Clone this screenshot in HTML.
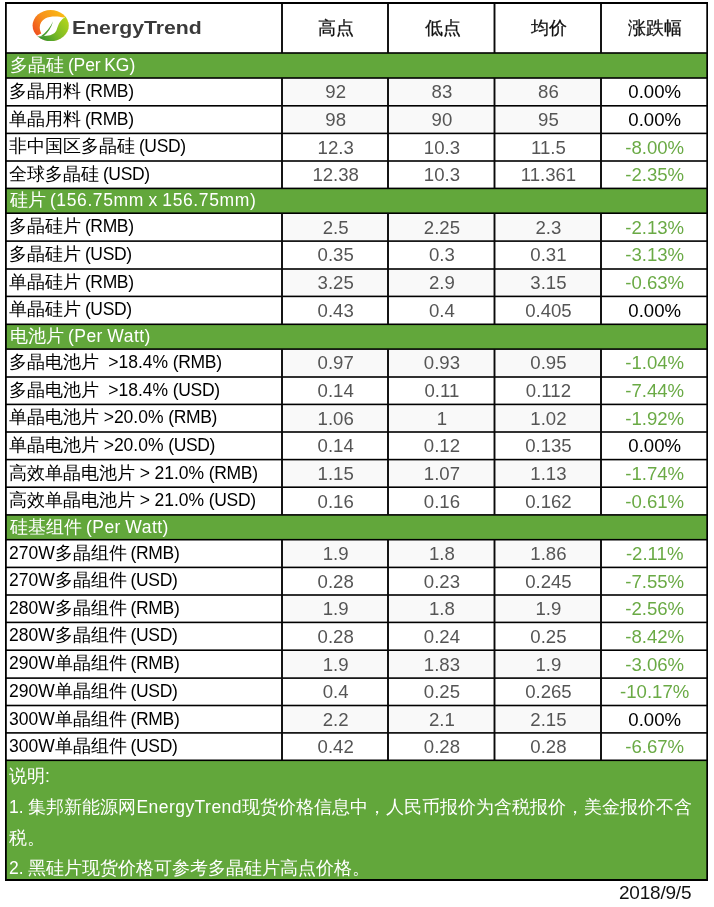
<!DOCTYPE html>
<html><head><meta charset="utf-8"><title>EnergyTrend</title>
<style>
html,body{margin:0;padding:0;background:#fff;}
body{will-change:transform;width:714px;height:907px;position:relative;overflow:hidden;font-family:"Liberation Sans",sans-serif;font-size:17.5px;color:#000;}
.a{position:absolute;white-space:pre;}
.g{background:#62a73b;}
.sh{color:#fff;left:10px;word-spacing:-1px;}
.lb{left:9px;color:#000;word-spacing:-1px;}
.n{text-align:center;color:#555;font-size:18.6px;}
.z{text-align:center;color:#000;font-size:18.6px;}
.d{text-align:center;color:#6aaa45;font-size:18.6px;}
.gy{background:#f9f9f9;}
.u{letter-spacing:-0.35px;}
.hd{text-align:center;color:#111;font-size:18px;-webkit-text-stroke:0.25px #111;}
.nt{color:#fff;left:9px;}
</style></head><body>
<div class="a hd" style="left:283.3px;top:2.6px;width:106px;height:50px;line-height:50px;">高点</div>
<div class="a hd" style="left:389.3px;top:2.6px;width:106.5px;height:50px;line-height:50px;">低点</div>
<div class="a hd" style="left:495.8px;top:2.6px;width:106.5px;height:50px;line-height:50px;">均价</div>
<div class="a hd" style="left:602.3px;top:2.6px;width:106px;height:50px;line-height:50px;">涨跌幅</div>
<div class="a g" style="left:6px;top:53px;width:701px;height:25px;line-height:25px;"></div>
<div class="a sh" style="top:53px;height:25px;line-height:25px;">多晶硅 <span style="letter-spacing:-0.1px">(Per KG)</span></div>
<div class="a gy" style="left:282px;top:78px;width:319px;height:27.8px;line-height:27.8px;"></div>
<div class="a lb" style="top:78px;height:27.8px;line-height:27.8px;">多晶用料 <span class="u">(RMB)</span></div>
<div class="a n" style="left:282.7px;top:78.3px;width:106px;height:27.8px;line-height:27.8px;">92</div>
<div class="a n" style="left:388.7px;top:78.3px;width:106.5px;height:27.8px;line-height:27.8px;">83</div>
<div class="a n" style="left:495.2px;top:78.3px;width:106.5px;height:27.8px;line-height:27.8px;">86</div>
<div class="a z" style="left:601.7px;top:78.3px;width:106px;height:27.8px;line-height:27.8px;">0.00%</div>
<div class="a gy" style="left:282px;top:105.8px;width:319px;height:27.6px;line-height:27.6px;"></div>
<div class="a lb" style="top:105.8px;height:27.6px;line-height:27.6px;">单晶用料 <span class="u">(RMB)</span></div>
<div class="a n" style="left:282.7px;top:106.1px;width:106px;height:27.6px;line-height:27.6px;">98</div>
<div class="a n" style="left:388.7px;top:106.1px;width:106.5px;height:27.6px;line-height:27.6px;">90</div>
<div class="a n" style="left:495.2px;top:106.1px;width:106.5px;height:27.6px;line-height:27.6px;">95</div>
<div class="a z" style="left:601.7px;top:106.1px;width:106px;height:27.6px;line-height:27.6px;">0.00%</div>
<div class="a lb" style="top:133.4px;height:27.6px;line-height:27.6px;">非中国区多晶硅 <span class="u">(USD)</span></div>
<div class="a n" style="left:282.7px;top:133.7px;width:106px;height:27.6px;line-height:27.6px;">12.3</div>
<div class="a n" style="left:388.7px;top:133.7px;width:106.5px;height:27.6px;line-height:27.6px;">10.3</div>
<div class="a n" style="left:495.2px;top:133.7px;width:106.5px;height:27.6px;line-height:27.6px;">11.5</div>
<div class="a d" style="left:601.7px;top:133.7px;width:106px;height:27.6px;line-height:27.6px;">-8.00%</div>
<div class="a lb" style="top:161px;height:27.4px;line-height:27.4px;">全球多晶硅 <span class="u">(USD)</span></div>
<div class="a n" style="left:282.7px;top:161.3px;width:106px;height:27.4px;line-height:27.4px;">12.38</div>
<div class="a n" style="left:388.7px;top:161.3px;width:106.5px;height:27.4px;line-height:27.4px;">10.3</div>
<div class="a n" style="left:495.2px;top:161.3px;width:106.5px;height:27.4px;line-height:27.4px;">11.361</div>
<div class="a d" style="left:601.7px;top:161.3px;width:106px;height:27.4px;line-height:27.4px;">-2.35%</div>
<div class="a g" style="left:6px;top:188.4px;width:701px;height:24.8px;line-height:24.8px;"></div>
<div class="a sh" style="top:188.4px;height:24.8px;line-height:24.8px;">硅片 <span style="letter-spacing:0.62px">(156.75mm x 156.75mm)</span></div>
<div class="a gy" style="left:282px;top:213.2px;width:319px;height:27.9px;line-height:27.9px;"></div>
<div class="a lb" style="top:213.2px;height:27.9px;line-height:27.9px;">多晶硅片 <span class="u">(RMB)</span></div>
<div class="a n" style="left:282.7px;top:213.5px;width:106px;height:27.9px;line-height:27.9px;">2.5</div>
<div class="a n" style="left:388.7px;top:213.5px;width:106.5px;height:27.9px;line-height:27.9px;">2.25</div>
<div class="a n" style="left:495.2px;top:213.5px;width:106.5px;height:27.9px;line-height:27.9px;">2.3</div>
<div class="a d" style="left:601.7px;top:213.5px;width:106px;height:27.9px;line-height:27.9px;">-2.13%</div>
<div class="a lb" style="top:241.1px;height:27.9px;line-height:27.9px;">多晶硅片 <span class="u">(USD)</span></div>
<div class="a n" style="left:282.7px;top:241.4px;width:106px;height:27.9px;line-height:27.9px;">0.35</div>
<div class="a n" style="left:388.7px;top:241.4px;width:106.5px;height:27.9px;line-height:27.9px;">0.3</div>
<div class="a n" style="left:495.2px;top:241.4px;width:106.5px;height:27.9px;line-height:27.9px;">0.31</div>
<div class="a d" style="left:601.7px;top:241.4px;width:106px;height:27.9px;line-height:27.9px;">-3.13%</div>
<div class="a gy" style="left:282px;top:269px;width:319px;height:27.4px;line-height:27.4px;"></div>
<div class="a lb" style="top:269px;height:27.4px;line-height:27.4px;">单晶硅片 <span class="u">(RMB)</span></div>
<div class="a n" style="left:282.7px;top:269.3px;width:106px;height:27.4px;line-height:27.4px;">3.25</div>
<div class="a n" style="left:388.7px;top:269.3px;width:106.5px;height:27.4px;line-height:27.4px;">2.9</div>
<div class="a n" style="left:495.2px;top:269.3px;width:106.5px;height:27.4px;line-height:27.4px;">3.15</div>
<div class="a d" style="left:601.7px;top:269.3px;width:106px;height:27.4px;line-height:27.4px;">-0.63%</div>
<div class="a lb" style="top:296.4px;height:27.9px;line-height:27.9px;">单晶硅片 <span class="u">(USD)</span></div>
<div class="a n" style="left:282.7px;top:296.7px;width:106px;height:27.9px;line-height:27.9px;">0.43</div>
<div class="a n" style="left:388.7px;top:296.7px;width:106.5px;height:27.9px;line-height:27.9px;">0.4</div>
<div class="a n" style="left:495.2px;top:296.7px;width:106.5px;height:27.9px;line-height:27.9px;">0.405</div>
<div class="a z" style="left:601.7px;top:296.7px;width:106px;height:27.9px;line-height:27.9px;">0.00%</div>
<div class="a g" style="left:6px;top:324.3px;width:701px;height:24.8px;line-height:24.8px;"></div>
<div class="a sh" style="top:324.3px;height:24.8px;line-height:24.8px;">电池片 <span style="letter-spacing:0.5px">(Per Watt)</span></div>
<div class="a gy" style="left:282px;top:349.1px;width:319px;height:27.9px;line-height:27.9px;"></div>
<div class="a lb" style="top:349.1px;height:27.9px;line-height:27.9px;word-spacing:-0.2px;">多晶电池片  &gt;18.4% <span class="u">(RMB)</span></div>
<div class="a n" style="left:282.7px;top:349.4px;width:106px;height:27.9px;line-height:27.9px;">0.97</div>
<div class="a n" style="left:388.7px;top:349.4px;width:106.5px;height:27.9px;line-height:27.9px;">0.93</div>
<div class="a n" style="left:495.2px;top:349.4px;width:106.5px;height:27.9px;line-height:27.9px;">0.95</div>
<div class="a d" style="left:601.7px;top:349.4px;width:106px;height:27.9px;line-height:27.9px;">-1.04%</div>
<div class="a lb" style="top:377px;height:27.4px;line-height:27.4px;word-spacing:-0.2px;">多晶电池片  &gt;18.4% <span class="u">(USD)</span></div>
<div class="a n" style="left:282.7px;top:377.3px;width:106px;height:27.4px;line-height:27.4px;">0.14</div>
<div class="a n" style="left:388.7px;top:377.3px;width:106.5px;height:27.4px;line-height:27.4px;">0.11</div>
<div class="a n" style="left:495.2px;top:377.3px;width:106.5px;height:27.4px;line-height:27.4px;">0.112</div>
<div class="a d" style="left:601.7px;top:377.3px;width:106px;height:27.4px;line-height:27.4px;">-7.44%</div>
<div class="a gy" style="left:282px;top:404.4px;width:319px;height:27.6px;line-height:27.6px;"></div>
<div class="a lb" style="top:404.4px;height:27.6px;line-height:27.6px;word-spacing:-0.2px;">单晶电池片 &gt;20.0% <span class="u">(RMB)</span></div>
<div class="a n" style="left:282.7px;top:404.7px;width:106px;height:27.6px;line-height:27.6px;">1.06</div>
<div class="a n" style="left:388.7px;top:404.7px;width:106.5px;height:27.6px;line-height:27.6px;">1</div>
<div class="a n" style="left:495.2px;top:404.7px;width:106.5px;height:27.6px;line-height:27.6px;">1.02</div>
<div class="a d" style="left:601.7px;top:404.7px;width:106px;height:27.6px;line-height:27.6px;">-1.92%</div>
<div class="a lb" style="top:432px;height:27.6px;line-height:27.6px;word-spacing:-0.2px;">单晶电池片 &gt;20.0% <span class="u">(USD)</span></div>
<div class="a n" style="left:282.7px;top:432.3px;width:106px;height:27.6px;line-height:27.6px;">0.14</div>
<div class="a n" style="left:388.7px;top:432.3px;width:106.5px;height:27.6px;line-height:27.6px;">0.12</div>
<div class="a n" style="left:495.2px;top:432.3px;width:106.5px;height:27.6px;line-height:27.6px;">0.135</div>
<div class="a z" style="left:601.7px;top:432.3px;width:106px;height:27.6px;line-height:27.6px;">0.00%</div>
<div class="a gy" style="left:282px;top:459.6px;width:319px;height:27.6px;line-height:27.6px;"></div>
<div class="a lb" style="top:459.6px;height:27.6px;line-height:27.6px;word-spacing:-0.2px;">高效单晶电池片 &gt; 21.0% <span class="u">(RMB)</span></div>
<div class="a n" style="left:282.7px;top:459.9px;width:106px;height:27.6px;line-height:27.6px;">1.15</div>
<div class="a n" style="left:388.7px;top:459.9px;width:106.5px;height:27.6px;line-height:27.6px;">1.07</div>
<div class="a n" style="left:495.2px;top:459.9px;width:106.5px;height:27.6px;line-height:27.6px;">1.13</div>
<div class="a d" style="left:601.7px;top:459.9px;width:106px;height:27.6px;line-height:27.6px;">-1.74%</div>
<div class="a lb" style="top:487.2px;height:27.7px;line-height:27.7px;word-spacing:-0.2px;">高效单晶电池片 &gt; 21.0% <span class="u">(USD)</span></div>
<div class="a n" style="left:282.7px;top:487.5px;width:106px;height:27.7px;line-height:27.7px;">0.16</div>
<div class="a n" style="left:388.7px;top:487.5px;width:106.5px;height:27.7px;line-height:27.7px;">0.16</div>
<div class="a n" style="left:495.2px;top:487.5px;width:106.5px;height:27.7px;line-height:27.7px;">0.162</div>
<div class="a d" style="left:601.7px;top:487.5px;width:106px;height:27.7px;line-height:27.7px;">-0.61%</div>
<div class="a g" style="left:6px;top:514.9px;width:701px;height:24.8px;line-height:24.8px;"></div>
<div class="a sh" style="top:514.9px;height:24.8px;line-height:24.8px;">硅基组件 <span style="letter-spacing:0.5px">(Per Watt)</span></div>
<div class="a gy" style="left:282px;top:539.7px;width:319px;height:27.7px;line-height:27.7px;"></div>
<div class="a lb" style="top:539.7px;height:27.7px;line-height:27.7px;">270W多晶组件 <span class="u">(RMB)</span></div>
<div class="a n" style="left:282.7px;top:540px;width:106px;height:27.7px;line-height:27.7px;">1.9</div>
<div class="a n" style="left:388.7px;top:540px;width:106.5px;height:27.7px;line-height:27.7px;">1.8</div>
<div class="a n" style="left:495.2px;top:540px;width:106.5px;height:27.7px;line-height:27.7px;">1.86</div>
<div class="a d" style="left:601.7px;top:540px;width:106px;height:27.7px;line-height:27.7px;">-2.11%</div>
<div class="a lb" style="top:567.4px;height:27.6px;line-height:27.6px;">270W多晶组件 <span class="u">(USD)</span></div>
<div class="a n" style="left:282.7px;top:567.7px;width:106px;height:27.6px;line-height:27.6px;">0.28</div>
<div class="a n" style="left:388.7px;top:567.7px;width:106.5px;height:27.6px;line-height:27.6px;">0.23</div>
<div class="a n" style="left:495.2px;top:567.7px;width:106.5px;height:27.6px;line-height:27.6px;">0.245</div>
<div class="a d" style="left:601.7px;top:567.7px;width:106px;height:27.6px;line-height:27.6px;">-7.55%</div>
<div class="a gy" style="left:282px;top:595px;width:319px;height:27.4px;line-height:27.4px;"></div>
<div class="a lb" style="top:595px;height:27.4px;line-height:27.4px;">280W多晶组件 <span class="u">(RMB)</span></div>
<div class="a n" style="left:282.7px;top:595.3px;width:106px;height:27.4px;line-height:27.4px;">1.9</div>
<div class="a n" style="left:388.7px;top:595.3px;width:106.5px;height:27.4px;line-height:27.4px;">1.8</div>
<div class="a n" style="left:495.2px;top:595.3px;width:106.5px;height:27.4px;line-height:27.4px;">1.9</div>
<div class="a d" style="left:601.7px;top:595.3px;width:106px;height:27.4px;line-height:27.4px;">-2.56%</div>
<div class="a lb" style="top:622.4px;height:27.8px;line-height:27.8px;">280W多晶组件 <span class="u">(USD)</span></div>
<div class="a n" style="left:282.7px;top:622.7px;width:106px;height:27.8px;line-height:27.8px;">0.28</div>
<div class="a n" style="left:388.7px;top:622.7px;width:106.5px;height:27.8px;line-height:27.8px;">0.24</div>
<div class="a n" style="left:495.2px;top:622.7px;width:106.5px;height:27.8px;line-height:27.8px;">0.25</div>
<div class="a d" style="left:601.7px;top:622.7px;width:106px;height:27.8px;line-height:27.8px;">-8.42%</div>
<div class="a gy" style="left:282px;top:650.2px;width:319px;height:27.9px;line-height:27.9px;"></div>
<div class="a lb" style="top:650.2px;height:27.9px;line-height:27.9px;">290W单晶组件 <span class="u">(RMB)</span></div>
<div class="a n" style="left:282.7px;top:650.5px;width:106px;height:27.9px;line-height:27.9px;">1.9</div>
<div class="a n" style="left:388.7px;top:650.5px;width:106.5px;height:27.9px;line-height:27.9px;">1.83</div>
<div class="a n" style="left:495.2px;top:650.5px;width:106.5px;height:27.9px;line-height:27.9px;">1.9</div>
<div class="a d" style="left:601.7px;top:650.5px;width:106px;height:27.9px;line-height:27.9px;">-3.06%</div>
<div class="a lb" style="top:678.1px;height:27.4px;line-height:27.4px;">290W单晶组件 <span class="u">(USD)</span></div>
<div class="a n" style="left:282.7px;top:678.4px;width:106px;height:27.4px;line-height:27.4px;">0.4</div>
<div class="a n" style="left:388.7px;top:678.4px;width:106.5px;height:27.4px;line-height:27.4px;">0.25</div>
<div class="a n" style="left:495.2px;top:678.4px;width:106.5px;height:27.4px;line-height:27.4px;">0.265</div>
<div class="a d" style="left:601.7px;top:678.4px;width:106px;height:27.4px;line-height:27.4px;">-10.17%</div>
<div class="a gy" style="left:282px;top:705.5px;width:319px;height:27.4px;line-height:27.4px;"></div>
<div class="a lb" style="top:705.5px;height:27.4px;line-height:27.4px;">300W单晶组件 <span class="u">(RMB)</span></div>
<div class="a n" style="left:282.7px;top:705.8px;width:106px;height:27.4px;line-height:27.4px;">2.2</div>
<div class="a n" style="left:388.7px;top:705.8px;width:106.5px;height:27.4px;line-height:27.4px;">2.1</div>
<div class="a n" style="left:495.2px;top:705.8px;width:106.5px;height:27.4px;line-height:27.4px;">2.15</div>
<div class="a z" style="left:601.7px;top:705.8px;width:106px;height:27.4px;line-height:27.4px;">0.00%</div>
<div class="a lb" style="top:732.9px;height:27.4px;line-height:27.4px;">300W单晶组件 <span class="u">(USD)</span></div>
<div class="a n" style="left:282.7px;top:733.2px;width:106px;height:27.4px;line-height:27.4px;">0.42</div>
<div class="a n" style="left:388.7px;top:733.2px;width:106.5px;height:27.4px;line-height:27.4px;">0.28</div>
<div class="a n" style="left:495.2px;top:733.2px;width:106.5px;height:27.4px;line-height:27.4px;">0.28</div>
<div class="a d" style="left:601.7px;top:733.2px;width:106px;height:27.4px;line-height:27.4px;">-6.67%</div>
<div class="a g" style="left:6px;top:760.3px;width:701px;height:119.7px;line-height:119.7px;"></div>
<div class="a nt" style="top:760.8px;height:30px;line-height:30px;">说明:</div>
<div class="a nt" style="top:791.7px;height:30px;line-height:30px;">1. 集邦新能源网<span style="letter-spacing:0.45px">EnergyTrend</span>现货价格信息中，人民币报价为含税报价，美金报价不含</div>
<div class="a nt" style="top:822.6px;height:30px;line-height:30px;">税。</div>
<div class="a nt" style="top:853.3px;height:30px;line-height:30px;">2. 黑硅片现货价格可参考多晶硅片高点价格。</div>
<div class="a" style="right:22.7px;top:881.3px;height:24px;line-height:24px;color:#111;font-size:19px;letter-spacing:-0.2px;">2018/9/5</div>
<svg class="a" style="left:0;top:0" width="714" height="907" viewBox="0 0 714 907">
<rect x="6" y="52.2" width="701" height="1.6" fill="#000"/>
<rect x="6" y="77.2" width="701" height="1.6" fill="#000"/>
<rect x="6" y="105" width="701" height="1.6" fill="#000"/>
<rect x="6" y="132.6" width="701" height="1.6" fill="#000"/>
<rect x="6" y="160.2" width="701" height="1.6" fill="#000"/>
<rect x="6" y="187.6" width="701" height="1.6" fill="#000"/>
<rect x="6" y="212.4" width="701" height="1.6" fill="#000"/>
<rect x="6" y="240.3" width="701" height="1.6" fill="#000"/>
<rect x="6" y="268.2" width="701" height="1.6" fill="#000"/>
<rect x="6" y="295.6" width="701" height="1.6" fill="#000"/>
<rect x="6" y="323.5" width="701" height="1.6" fill="#000"/>
<rect x="6" y="348.3" width="701" height="1.6" fill="#000"/>
<rect x="6" y="376.2" width="701" height="1.6" fill="#000"/>
<rect x="6" y="403.6" width="701" height="1.6" fill="#000"/>
<rect x="6" y="431.2" width="701" height="1.6" fill="#000"/>
<rect x="6" y="458.8" width="701" height="1.6" fill="#000"/>
<rect x="6" y="486.4" width="701" height="1.6" fill="#000"/>
<rect x="6" y="514.1" width="701" height="1.6" fill="#000"/>
<rect x="6" y="538.9" width="701" height="1.6" fill="#000"/>
<rect x="6" y="566.6" width="701" height="1.6" fill="#000"/>
<rect x="6" y="594.2" width="701" height="1.6" fill="#000"/>
<rect x="6" y="621.6" width="701" height="1.6" fill="#000"/>
<rect x="6" y="649.4" width="701" height="1.6" fill="#000"/>
<rect x="6" y="677.3" width="701" height="1.6" fill="#000"/>
<rect x="6" y="704.7" width="701" height="1.6" fill="#000"/>
<rect x="6" y="732.1" width="701" height="1.6" fill="#000"/>
<rect x="6" y="759.5" width="701" height="1.6" fill="#000"/>
<rect x="281.05" y="3" width="1.9" height="50" fill="#0a0a0a"/>
<rect x="281.05" y="78" width="1.9" height="27.8" fill="#0a0a0a"/>
<rect x="281.05" y="105.8" width="1.9" height="27.6" fill="#0a0a0a"/>
<rect x="281.05" y="133.4" width="1.9" height="27.6" fill="#0a0a0a"/>
<rect x="281.05" y="161" width="1.9" height="27.4" fill="#0a0a0a"/>
<rect x="281.05" y="213.2" width="1.9" height="27.9" fill="#0a0a0a"/>
<rect x="281.05" y="241.1" width="1.9" height="27.9" fill="#0a0a0a"/>
<rect x="281.05" y="269" width="1.9" height="27.4" fill="#0a0a0a"/>
<rect x="281.05" y="296.4" width="1.9" height="27.9" fill="#0a0a0a"/>
<rect x="281.05" y="349.1" width="1.9" height="27.9" fill="#0a0a0a"/>
<rect x="281.05" y="377" width="1.9" height="27.4" fill="#0a0a0a"/>
<rect x="281.05" y="404.4" width="1.9" height="27.6" fill="#0a0a0a"/>
<rect x="281.05" y="432" width="1.9" height="27.6" fill="#0a0a0a"/>
<rect x="281.05" y="459.6" width="1.9" height="27.6" fill="#0a0a0a"/>
<rect x="281.05" y="487.2" width="1.9" height="27.7" fill="#0a0a0a"/>
<rect x="281.05" y="539.7" width="1.9" height="27.7" fill="#0a0a0a"/>
<rect x="281.05" y="567.4" width="1.9" height="27.6" fill="#0a0a0a"/>
<rect x="281.05" y="595" width="1.9" height="27.4" fill="#0a0a0a"/>
<rect x="281.05" y="622.4" width="1.9" height="27.8" fill="#0a0a0a"/>
<rect x="281.05" y="650.2" width="1.9" height="27.9" fill="#0a0a0a"/>
<rect x="281.05" y="678.1" width="1.9" height="27.4" fill="#0a0a0a"/>
<rect x="281.05" y="705.5" width="1.9" height="27.4" fill="#0a0a0a"/>
<rect x="281.05" y="732.9" width="1.9" height="27.4" fill="#0a0a0a"/>
<rect x="387.05" y="3" width="1.9" height="50" fill="#0a0a0a"/>
<rect x="387.05" y="78" width="1.9" height="27.8" fill="#0a0a0a"/>
<rect x="387.05" y="105.8" width="1.9" height="27.6" fill="#0a0a0a"/>
<rect x="387.05" y="133.4" width="1.9" height="27.6" fill="#0a0a0a"/>
<rect x="387.05" y="161" width="1.9" height="27.4" fill="#0a0a0a"/>
<rect x="387.05" y="213.2" width="1.9" height="27.9" fill="#0a0a0a"/>
<rect x="387.05" y="241.1" width="1.9" height="27.9" fill="#0a0a0a"/>
<rect x="387.05" y="269" width="1.9" height="27.4" fill="#0a0a0a"/>
<rect x="387.05" y="296.4" width="1.9" height="27.9" fill="#0a0a0a"/>
<rect x="387.05" y="349.1" width="1.9" height="27.9" fill="#0a0a0a"/>
<rect x="387.05" y="377" width="1.9" height="27.4" fill="#0a0a0a"/>
<rect x="387.05" y="404.4" width="1.9" height="27.6" fill="#0a0a0a"/>
<rect x="387.05" y="432" width="1.9" height="27.6" fill="#0a0a0a"/>
<rect x="387.05" y="459.6" width="1.9" height="27.6" fill="#0a0a0a"/>
<rect x="387.05" y="487.2" width="1.9" height="27.7" fill="#0a0a0a"/>
<rect x="387.05" y="539.7" width="1.9" height="27.7" fill="#0a0a0a"/>
<rect x="387.05" y="567.4" width="1.9" height="27.6" fill="#0a0a0a"/>
<rect x="387.05" y="595" width="1.9" height="27.4" fill="#0a0a0a"/>
<rect x="387.05" y="622.4" width="1.9" height="27.8" fill="#0a0a0a"/>
<rect x="387.05" y="650.2" width="1.9" height="27.9" fill="#0a0a0a"/>
<rect x="387.05" y="678.1" width="1.9" height="27.4" fill="#0a0a0a"/>
<rect x="387.05" y="705.5" width="1.9" height="27.4" fill="#0a0a0a"/>
<rect x="387.05" y="732.9" width="1.9" height="27.4" fill="#0a0a0a"/>
<rect x="493.55" y="3" width="1.9" height="50" fill="#0a0a0a"/>
<rect x="493.55" y="78" width="1.9" height="27.8" fill="#0a0a0a"/>
<rect x="493.55" y="105.8" width="1.9" height="27.6" fill="#0a0a0a"/>
<rect x="493.55" y="133.4" width="1.9" height="27.6" fill="#0a0a0a"/>
<rect x="493.55" y="161" width="1.9" height="27.4" fill="#0a0a0a"/>
<rect x="493.55" y="213.2" width="1.9" height="27.9" fill="#0a0a0a"/>
<rect x="493.55" y="241.1" width="1.9" height="27.9" fill="#0a0a0a"/>
<rect x="493.55" y="269" width="1.9" height="27.4" fill="#0a0a0a"/>
<rect x="493.55" y="296.4" width="1.9" height="27.9" fill="#0a0a0a"/>
<rect x="493.55" y="349.1" width="1.9" height="27.9" fill="#0a0a0a"/>
<rect x="493.55" y="377" width="1.9" height="27.4" fill="#0a0a0a"/>
<rect x="493.55" y="404.4" width="1.9" height="27.6" fill="#0a0a0a"/>
<rect x="493.55" y="432" width="1.9" height="27.6" fill="#0a0a0a"/>
<rect x="493.55" y="459.6" width="1.9" height="27.6" fill="#0a0a0a"/>
<rect x="493.55" y="487.2" width="1.9" height="27.7" fill="#0a0a0a"/>
<rect x="493.55" y="539.7" width="1.9" height="27.7" fill="#0a0a0a"/>
<rect x="493.55" y="567.4" width="1.9" height="27.6" fill="#0a0a0a"/>
<rect x="493.55" y="595" width="1.9" height="27.4" fill="#0a0a0a"/>
<rect x="493.55" y="622.4" width="1.9" height="27.8" fill="#0a0a0a"/>
<rect x="493.55" y="650.2" width="1.9" height="27.9" fill="#0a0a0a"/>
<rect x="493.55" y="678.1" width="1.9" height="27.4" fill="#0a0a0a"/>
<rect x="493.55" y="705.5" width="1.9" height="27.4" fill="#0a0a0a"/>
<rect x="493.55" y="732.9" width="1.9" height="27.4" fill="#0a0a0a"/>
<rect x="600.05" y="3" width="1.9" height="50" fill="#0a0a0a"/>
<rect x="600.05" y="78" width="1.9" height="27.8" fill="#0a0a0a"/>
<rect x="600.05" y="105.8" width="1.9" height="27.6" fill="#0a0a0a"/>
<rect x="600.05" y="133.4" width="1.9" height="27.6" fill="#0a0a0a"/>
<rect x="600.05" y="161" width="1.9" height="27.4" fill="#0a0a0a"/>
<rect x="600.05" y="213.2" width="1.9" height="27.9" fill="#0a0a0a"/>
<rect x="600.05" y="241.1" width="1.9" height="27.9" fill="#0a0a0a"/>
<rect x="600.05" y="269" width="1.9" height="27.4" fill="#0a0a0a"/>
<rect x="600.05" y="296.4" width="1.9" height="27.9" fill="#0a0a0a"/>
<rect x="600.05" y="349.1" width="1.9" height="27.9" fill="#0a0a0a"/>
<rect x="600.05" y="377" width="1.9" height="27.4" fill="#0a0a0a"/>
<rect x="600.05" y="404.4" width="1.9" height="27.6" fill="#0a0a0a"/>
<rect x="600.05" y="432" width="1.9" height="27.6" fill="#0a0a0a"/>
<rect x="600.05" y="459.6" width="1.9" height="27.6" fill="#0a0a0a"/>
<rect x="600.05" y="487.2" width="1.9" height="27.7" fill="#0a0a0a"/>
<rect x="600.05" y="539.7" width="1.9" height="27.7" fill="#0a0a0a"/>
<rect x="600.05" y="567.4" width="1.9" height="27.6" fill="#0a0a0a"/>
<rect x="600.05" y="595" width="1.9" height="27.4" fill="#0a0a0a"/>
<rect x="600.05" y="622.4" width="1.9" height="27.8" fill="#0a0a0a"/>
<rect x="600.05" y="650.2" width="1.9" height="27.9" fill="#0a0a0a"/>
<rect x="600.05" y="678.1" width="1.9" height="27.4" fill="#0a0a0a"/>
<rect x="600.05" y="705.5" width="1.9" height="27.4" fill="#0a0a0a"/>
<rect x="600.05" y="732.9" width="1.9" height="27.4" fill="#0a0a0a"/>
<rect x="5" y="2" width="703" height="2" fill="#000"/>
<rect x="5" y="879" width="703" height="2" fill="#000"/>
<rect x="5" y="2" width="1.8" height="879" fill="#000"/>
<rect x="706.3" y="2" width="1.7" height="879" fill="#000"/>
</svg>
<svg class="a" style="left:25px;top:5px" width="60" height="42" viewBox="0 0 714 500">
<defs>
<linearGradient id="og" gradientUnits="userSpaceOnUse" x1="110" y1="350" x2="470" y2="100"><stop offset="0" stop-color="#ef4b1f"/><stop offset="0.45" stop-color="#f7921c"/><stop offset="1" stop-color="#fbbc12"/></linearGradient>
<linearGradient id="gg" gradientUnits="userSpaceOnUse" x1="500" y1="170" x2="190" y2="410"><stop offset="0" stop-color="#b2d41a"/><stop offset="0.5" stop-color="#7dbb25"/><stop offset="1" stop-color="#37922f"/></linearGradient>
<clipPath id="ec"><ellipse cx="305" cy="245" rx="215" ry="185"/></clipPath>
</defs>
<g clip-path="url(#ec)">
<rect x="0" y="0" width="714" height="500" fill="url(#og)"/>
<path d="M492 132 L600 60 L714 500 L100 500 L138 366 L194 338 L185 318 C160 255 185 190 240 160 C300 128 400 132 462 150 Z" fill="#fff"/>
<path d="M492 132 L600 60 L714 500 L100 500 L150 374 L230 368 C300 365 350 350 375 300 C395 250 400 200 470 150 Z" fill="url(#gg)"/>
<path d="M188 372 C250 330 300 270 334 193 C312 272 272 332 226 369 Z" fill="#4a9e2f"/>
</g>
</svg>
<div class="a" style="left:72px;top:13.6px;height:28px;line-height:28px;font-weight:bold;font-size:18.2px;color:#3a3a3a;transform-origin:0 50%;transform:scaleX(1.167);">EnergyTrend</div>
</body></html>
